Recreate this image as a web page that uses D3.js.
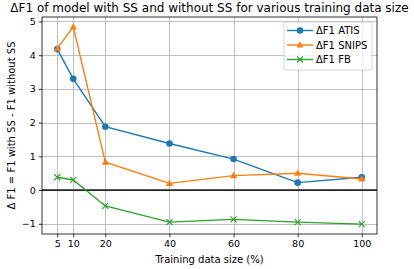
<!DOCTYPE html>
<html><head><meta charset="utf-8">
<script src="https://cdn.jsdelivr.net/npm/d3@7"></script>
<style>body{margin:0;background:#fff}svg{display:block}text{font-family:"DejaVu Sans",sans-serif;fill:#000}</style>
</head><body>
<script>
const sizes = [5, 10, 20, 40, 60, 80, 100];
const atis = [4.18, 3.3, 1.88, 1.38, 0.92, 0.22, 0.38];
const snips = [4.2, 4.84, 0.83, 0.2, 0.43, 0.5, 0.33];
const fb = [0.38, 0.3, -0.47, -0.95, -0.87, -0.95, -1.01];
const xTicks = [5, 10, 20, 40, 60, 80, 100];
const yTicks = [-1, 0, 1, 2, 3, 4, 5];
const seriesNames = ["ΔF1 ATIS", "ΔF1 SNIPS", "ΔF1 FB"];
const colors = ["#1f77b4", "#ff7f0e", "#2ca02c"];
const markers = ["circle", "triangle", "x"];
const title = "ΔF1 of model with SS and without SS for various training data size";
const xLabel = "Training data size (%)";
const yLabel = "Δ F1 = F1 with SS - F1 without SS";

const W = 414, H = 269;
const m = {l: 42, r: 37, t: 17, b: 35};
const svg = d3.select("body").append("svg").attr("width", W).attr("height", H);
const all = atis.concat(snips, fb);
const ymin = d3.min(all), ymax = d3.max(all), yr = ymax - ymin;
const x = d3.scaleLinear().domain([5 - 95*0.05, 100 + 95*0.05]).range([m.l, W - m.r]);
const y = d3.scaleLinear().domain([ymin - yr*0.05, ymax + yr*0.05]).range([H - m.b, m.t]);

// grid
const g = svg.append("g");
g.selectAll(".gx").data(xTicks).join("line").attr("x1", d => Math.round(x(d))+0.5).attr("x2", d => Math.round(x(d))+0.5)
  .attr("y1", m.t).attr("y2", H - m.b).attr("stroke", "#b0b0b0").attr("stroke-width", 0.8);
g.selectAll(".gy").data(yTicks).join("line").attr("y1", d => Math.round(y(d))+0.5).attr("y2", d => Math.round(y(d))+0.5)
  .attr("x1", m.l).attr("x2", W - m.r).attr("stroke", "#b0b0b0").attr("stroke-width", 0.8);

// axes
const xAxis = svg.append("g").attr("transform", `translate(0,${H - m.b})`)
  .call(d3.axisBottom(x).tickValues(xTicks).tickSize(3.2).tickPadding(3));
const yAxis = svg.append("g").attr("transform", `translate(${m.l},0)`)
  .call(d3.axisLeft(y).tickValues(yTicks).tickSize(3.2).tickPadding(3).tickFormat(d => d < 0 ? "\u2212" + Math.abs(d) : d));
[xAxis, yAxis].forEach(a => {
  a.select(".domain").remove();
  a.selectAll("text").attr("font-size", 9.5).attr("font-family", "DejaVu Sans").attr("fill", "#000");
  a.selectAll("line").attr("stroke", "#000").attr("stroke-width", 0.8);
});

// zero line
svg.append("line").attr("x1", m.l).attr("x2", W - m.r).attr("y1", y(0)).attr("y2", y(0))
  .attr("stroke", "#222").attr("stroke-width", 1.8);

// series
const data = [atis, snips, fb];
const line = d3.line().x((d, i) => x(sizes[i])).y(d => y(d));
function drawMarker(sel, type, color) {
  if (type === "circle") sel.append("circle").attr("r", 3.3).attr("fill", color);
  else if (type === "triangle") sel.append("path").attr("d", "M0,-3.8L3.6,2.6L-3.6,2.6Z").attr("fill", color);
  else sel.append("path").attr("d", "M-3,-3L3,3M-3,3L3,-3").attr("stroke", color).attr("stroke-width", 1.1).attr("fill", "none");
}
data.forEach((vals, k) => {
  svg.append("path").datum(vals).attr("d", line).attr("fill", "none").attr("stroke", colors[k]).attr("stroke-width", 1.4);
  vals.forEach((v, i) => {
    const gm = svg.append("g").attr("transform", `translate(${x(sizes[i])},${y(v)})`);
    drawMarker(gm, markers[k], colors[k]);
  });
});

// frame
svg.append("rect").attr("x", m.l).attr("y", m.t).attr("width", W - m.r - m.l).attr("height", H - m.b - m.t)
  .attr("fill", "none").attr("stroke", "#000").attr("stroke-width", 0.8);

// legend
const lg = svg.append("g").attr("transform", "translate(284,22)");
lg.append("rect").attr("width", 88).attr("height", 48).attr("rx", 2).attr("fill", "#fff").attr("fill-opacity", 0.8)
  .attr("stroke", "#ccc").attr("stroke-width", 0.8);
seriesNames.forEach((n, k) => {
  const yy = 8.5 + k * 14.5;
  lg.append("line").attr("x1", 3).attr("x2", 29).attr("y1", yy).attr("y2", yy).attr("stroke", colors[k]).attr("stroke-width", 1.4);
  drawMarker(lg.append("g").attr("transform", `translate(16,${yy})`), markers[k], colors[k]);
  lg.append("text").attr("x", 32).attr("y", yy).attr("dy", "0.35em").attr("font-size", 10).text(n);
});

// titles
svg.append("text").attr("x", (m.l + W - m.r) / 2).attr("y", 12).attr("text-anchor", "middle").attr("font-size", 12).text(title);
svg.append("text").attr("x", (m.l + W - m.r) / 2).attr("y", 263).attr("text-anchor", "middle").attr("font-size", 10).text(xLabel);
svg.append("text").attr("transform", `translate(14.5,${(m.t + H - m.b) / 2}) rotate(-90)`).attr("text-anchor", "middle").attr("font-size", 10).text(yLabel);
</script>
</body></html>
